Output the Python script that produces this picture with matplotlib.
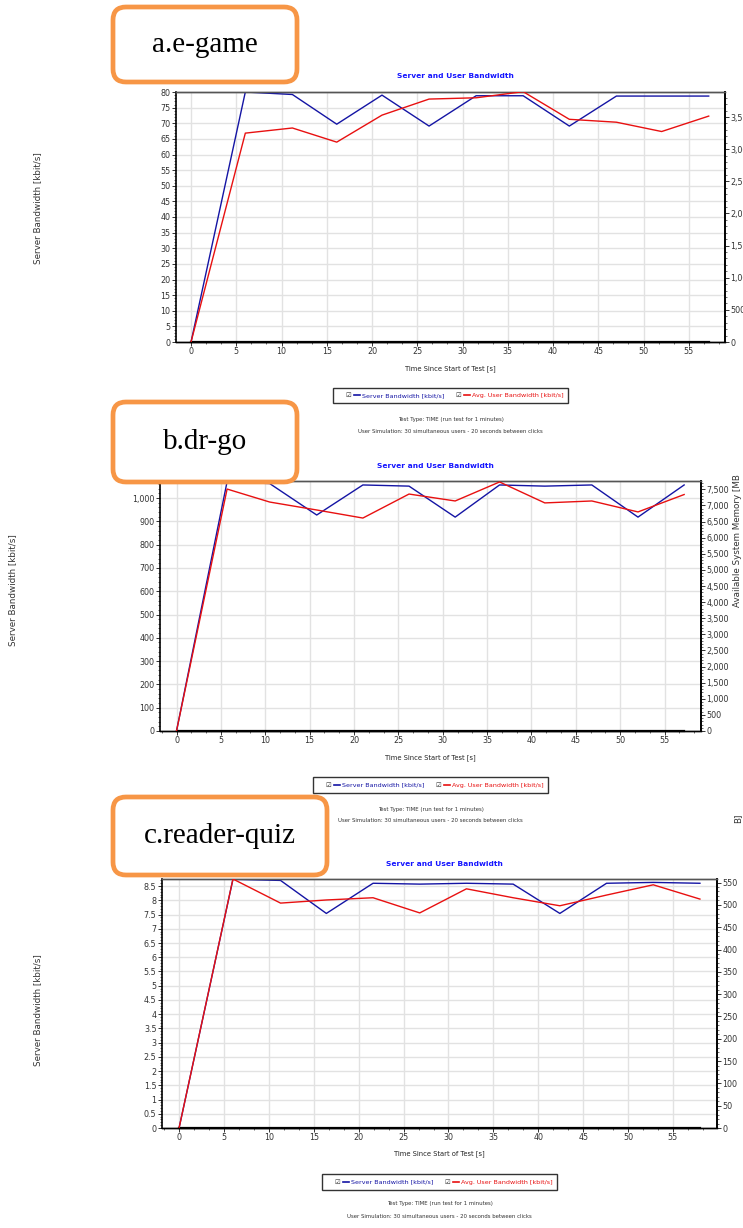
import matplotlib
matplotlib.use('Agg')
import matplotlib.pyplot as plt
from matplotlib.lines import Line2D
from matplotlib.patches import FancyBboxPatch
from matplotlib.transforms import IdentityTransform
from matplotlib.ticker import MultipleLocator, FuncFormatter

# data
a_time = [0, 6.0, 11.2, 16.1, 21.1, 26.3, 31.5, 36.7, 41.8, 47.0, 52.0, 57.2]
a_server = [0, 80, 79.2, 69.7, 79, 69.1, 78.8, 78.8, 69.1, 78.7, 78.7, 78.7]
a_user = [0, 3250, 3330, 3110, 3530, 3780, 3800, 3895, 3465, 3420, 3275, 3515]

b_time = [0, 5.7, 10.5, 15.8, 21.0, 26.2, 31.4, 36.4, 41.5, 46.8, 52.0, 57.2]
b_server = [0, 1070, 1062, 927, 1056, 1051, 918, 1056, 1051, 1056, 918, 1056]
b_user = [0, 7510, 7107, 6860, 6610, 7355, 7140, 7730, 7080, 7140, 6800, 7340]

c_time = [0, 6.0, 11.3, 16.4, 21.6, 26.8, 32.0, 37.2, 42.4, 47.6, 52.8, 58.0]
c_server = [0, 8.74, 8.7, 7.54, 8.6, 8.57, 8.6, 8.57, 7.54, 8.6, 8.63, 8.6]
c_user = [0, 558, 504, 511, 516, 482, 536, 516, 498, 522, 545, 513]

labels = ['a.e-game', 'b.dr-go', 'c.reader-quiz']
series_names = ['Server Bandwidth [kbit/s]', 'Avg. User Bandwidth [kbit/s]']
title = 'Server and User Bandwidth'
xlabel = 'Time Since Start of Test [s]'
ylabel = 'Server Bandwidth [kbit/s]'
info = ['Test Type: TIME (run test for 1 minutes)',
        'User Simulation: 30 simultaneous users - 20 seconds between clicks']

W, H = 743, 1228
narrow = ['Liberation Sans Narrow', 'DejaVu Sans']
plt.rcParams['font.family'] = narrow

BLUE = '#1414a4'
RED = '#e81010'
ORANGE = '#F79646'

fig = plt.figure(figsize=(W / 100, H / 100), dpi=100)


def fx(x):
    return x / W


def fy(y):
    return 1 - y / H


def comma(v, pos):
    return '{:,.0f}'.format(v)


def plain(v, pos):
    return '{:g}'.format(round(v, 2))


def panel(time, server, user, box, ax_px, xlim, ylim_l, ylim_r, lstep, lminor, lfmt,
          rstep, rminor, title_y, xlab_y, leg_y, info_y, ylab_xy):
    l, t, r, b = ax_px
    ax = fig.add_axes([fx(l), fy(b), (r - l) / W, (b - t) / H])
    ax2 = ax.twinx()

    ax.plot(time, server, color=BLUE, lw=1.0, zorder=3)
    ax.plot(time, [0] * len(time), color='black', lw=1.6, zorder=4, clip_on=False)
    ax2.plot(time, user, color=RED, lw=1.0, zorder=3)

    ax.set_xlim(*xlim)
    ax.set_ylim(*ylim_l)
    ax2.set_ylim(*ylim_r)

    ax.xaxis.set_major_locator(MultipleLocator(5))
    ax.xaxis.set_minor_locator(MultipleLocator(5 / 3))
    ax.yaxis.set_major_locator(MultipleLocator(lstep))
    ax.yaxis.set_minor_locator(MultipleLocator(lminor))
    ax.yaxis.set_major_formatter(FuncFormatter(lfmt))
    ax2.yaxis.set_major_locator(MultipleLocator(rstep))
    ax2.yaxis.set_minor_locator(MultipleLocator(rminor))
    ax2.yaxis.set_major_formatter(FuncFormatter(comma))

    ax.grid(True, which='major', color='#e2e2e2', lw=1.0)
    ax.set_axisbelow(True)

    for a in (ax, ax2):
        a.tick_params(which='major', length=3, width=0.7, labelsize=5.8,
                      colors='#333333', pad=0.9)
        a.tick_params(which='minor', length=1.5, width=0.5, colors='#333333')
        a.spines['left'].set_linewidth(1.2)
        a.spines['right'].set_linewidth(1.2)
        a.spines['bottom'].set_linewidth(1.0)
        a.spines['top'].set_color('#555555')
        a.spines['top'].set_linewidth(1.0)
    ax2.spines['left'].set_visible(False)

    cx = (l + r) / 2
    fig.text(fx(cx + 5), fy(title_y), title, color='#1515ff', fontsize=5.4,
             fontweight='bold', ha='center', va='center')
    fig.text(fx(cx), fy(xlab_y), xlabel, color='#222222', fontsize=4.9,
             ha='center', va='center')
    fig.text(fx(ylab_xy[0]), fy(ylab_xy[1]), ylabel, family='DejaVu Sans',
             fontsize=6.3, color='#333333', rotation=90, ha='center', va='center')
    for i, line in enumerate(info):
        fig.text(fx(cx), fy(info_y + 12 * i), line, color='#333333',
                 fontsize=3.9, ha='center', va='center')

    blank = Line2D([], [], linestyle='none')
    handles = [blank, Line2D([], [], color=BLUE, lw=1.2),
               blank, Line2D([], [], color=RED, lw=1.2)]
    texts = ['\u2611', series_names[0], '\u2611', series_names[1]]
    leg = fig.legend(handles, texts, ncol=4, loc='center',
                     bbox_to_anchor=(fx(cx), fy(leg_y)), fontsize=4.6,
                     handlelength=0.9, handletextpad=0.3, columnspacing=0.5,
                     borderpad=0.8, fancybox=False, frameon=True)
    leg.get_frame().set_edgecolor('black')
    leg.get_frame().set_linewidth(1.0)
    for txt, col in zip(leg.get_texts(), ['#333333', BLUE, '#333333', RED]):
        txt.set_color(col)

    x0, y0, x1, y1, text = box
    p = FancyBboxPatch((x0, H - y1), x1 - x0, y1 - y0,
                       boxstyle='round,pad=0,rounding_size=13',
                       transform=IdentityTransform(), fc='white', ec=ORANGE,
                       lw=3.4, zorder=5)
    fig.add_artist(p)
    fig.text(fx((x0 + x1) / 2), fy((y0 + y1) / 2), text, family='Liberation Serif',
             fontsize=21, ha='center', va='center', zorder=6)
    return ax, ax2


panel(a_time, a_server, a_user, (113, 7, 297, 82, labels[0]),
      (176, 92, 725, 342), (-1.66, 59.0), (0, 80), (0, 3890),
      5, 1, plain, 500, 100, 76, 369, 395.5, 420, (38, 208))

panel(b_time, b_server, b_user, (113, 402, 297, 482, labels[1]),
      (160, 481, 701, 731), (-1.86, 59.1), (0, 1073), (0, 7760),
      100, 20, comma, 500, 100, 466, 758, 785, 809, (13, 590))

panel(c_time, c_server, c_user, (113, 797, 327, 875, labels[2]),
      (162, 879, 717, 1128), (-1.9, 59.9), (0, 8.75), (0, 558),
      0.5, 0.1, plain, 50, 10, 864, 1154, 1182, 1204, (38, 1010))

fig.text(fx(738), fy(541), 'Available System Memory [MB', family='DejaVu Sans',
         fontsize=6.3, color='#333333', rotation=90, ha='center', va='center')
fig.text(fx(738), fy(818), 'B]', family='DejaVu Sans', fontsize=6.3,
         color='#333333', rotation=90, ha='center', va='center')

fig.savefig('out.png', dpi=100)
